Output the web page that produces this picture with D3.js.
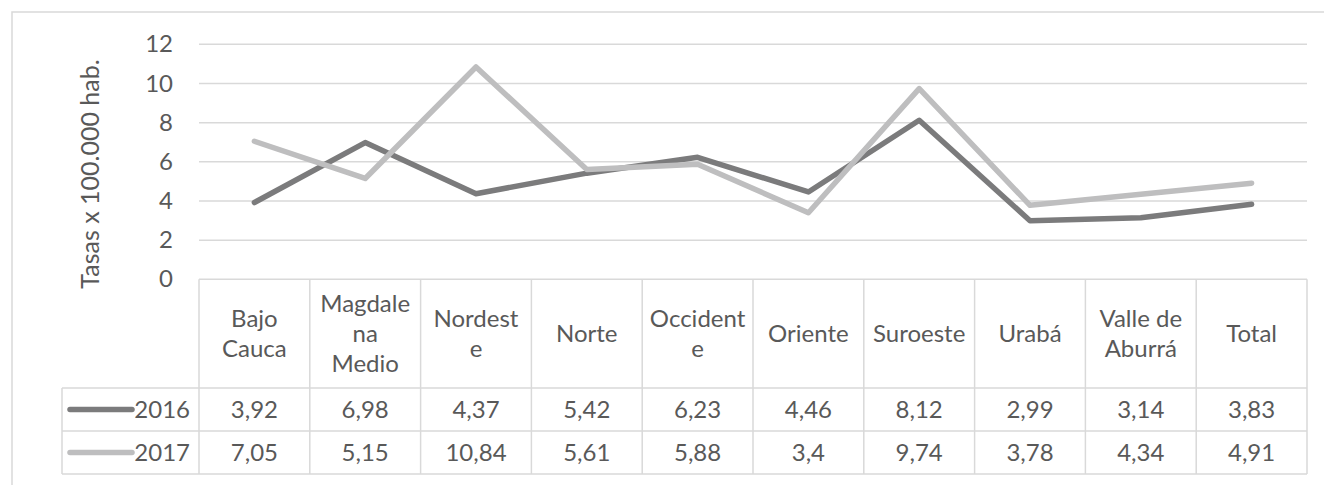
<!DOCTYPE html>
<html><head><meta charset="utf-8">
<script src="https://cdn.jsdelivr.net/npm/d3@7"></script>
<style>html,body{margin:0;padding:0;background:#fff;}svg{display:block;}</style>
</head><body>
<svg id="chart" width="1324" height="485"></svg>
<script>
const categories = ["Bajo Cauca","Magdalena Medio","Nordeste","Norte","Occidente","Oriente","Suroeste","Urabá","Valle de Aburrá","Total"];
const categoryLines = [["Bajo","Cauca"],["Magdale","na","Medio"],["Nordest","e"],["Norte"],["Occident","e"],["Oriente"],["Suroeste"],["Urabá"],["Valle de","Aburrá"],["Total"]];
const seriesNames = ["2016","2017"];
const values2016 = [3.92,6.98,4.37,5.42,6.23,4.46,8.12,2.99,3.14,3.83];
const values2017 = [7.05,5.15,10.84,5.61,5.88,3.4,9.74,3.78,4.34,4.91];
const yTicks = [0,2,4,6,8,10,12];
const yTitle = "Tasas x 100.000 hab.";

const series = [
  {name: seriesNames[0], values: values2016, color: "#7b7b7c"},
  {name: seriesNames[1], values: values2017, color: "#bebebf"}
];

const svg = d3.select("#chart");
const font = "Lato, 'Open Sans', sans-serif";
const txt = "#595959";
const gridC = "#d9d9d9";
const left = 199, right = 1307, top0 = 44.3, bottom0 = 279.3;
const rowH = [388, 431, 474];

// outer frame
svg.append("rect").attr("x",12).attr("y",12).attr("width",1400).attr("height",600)
  .attr("fill","none").attr("stroke",gridC).attr("stroke-width",1.5);

const x = d3.scaleBand().domain(categories).range([left,right]);
const y = d3.scaleLinear().domain([0,12]).range([bottom0,top0]);

// gridlines
svg.append("g").selectAll("line").data(yTicks.filter(d=>d>0)).join("line")
  .attr("x1",left).attr("x2",right).attr("y1",d=>y(d)).attr("y2",d=>y(d))
  .attr("stroke",gridC).attr("stroke-width",1.5);

// y axis via d3.axisLeft
const yAxis = svg.append("g").attr("transform",`translate(${left},0)`)
  .call(d3.axisLeft(y).tickValues(yTicks).tickSize(0).tickPadding(26));
yAxis.select(".domain").remove();
yAxis.selectAll("text").attr("font-family",font).attr("font-size",24).attr("fill",txt);

// y title
svg.append("text").attr("transform","translate(99,174) rotate(-90)")
  .attr("text-anchor","middle").attr("font-family",font).attr("font-size",25).attr("fill",txt).text(yTitle);

// table
const tbl = svg.append("g");
const tableLeft = 62;
[bottom0, rowH[0], rowH[1], rowH[2]].forEach((yy,i)=>{
  tbl.append("line").attr("x1", i===0 ? left : tableLeft).attr("x2",right)
    .attr("y1",yy).attr("y2",yy).attr("stroke",gridC).attr("stroke-width",1.5);
});
const xs = categories.map(c=>x(c)).concat([right]);
xs.forEach(xx=>{
  tbl.append("line").attr("x1",xx).attr("x2",xx).attr("y1",bottom0).attr("y2",rowH[2])
    .attr("stroke",gridC).attr("stroke-width",1.5);
});
tbl.append("line").attr("x1",tableLeft).attr("x2",tableLeft).attr("y1",rowH[0]).attr("y2",rowH[2])
  .attr("stroke",gridC).attr("stroke-width",1.5);

// header labels
const headerMid = (bottom0 + rowH[0]) / 2;
const lh = 30;
categories.forEach((c,i)=>{
  const lines = categoryLines[i];
  const t = tbl.append("text").attr("text-anchor","middle").attr("font-family",font)
    .attr("font-size",24).attr("fill",txt);
  lines.forEach((ln,j)=>{
    t.append("tspan").attr("x", x(c)+x.bandwidth()/2)
      .attr("y", headerMid + (j - (lines.length-1)/2)*lh).attr("dy","0.35em").text(ln);
  });
});

// data rows
const fmt = v => String(v).replace(".", ",");
series.forEach((s,si)=>{
  const cy = (rowH[si] + rowH[si+1]) / 2;
  tbl.append("line").attr("x1",70).attr("x2",132).attr("y1",cy).attr("y2",cy)
    .attr("stroke",s.color).attr("stroke-width",5.5).attr("stroke-linecap","round");
  tbl.append("text").attr("x",190).attr("y",cy).attr("dy","0.35em").attr("text-anchor","end")
    .attr("font-family",font).attr("font-size",24).attr("fill",txt).text(s.name);
  s.values.forEach((v,i)=>{
    tbl.append("text").attr("x",x(categories[i])+x.bandwidth()/2).attr("y",cy).attr("dy","0.35em")
      .attr("text-anchor","middle").attr("font-family",font).attr("font-size",24).attr("fill",txt).text(fmt(v));
  });
});

// lines
const line = d3.line().x((d,i)=>x(categories[i])+x.bandwidth()/2).y(d=>y(d));
svg.append("g").selectAll("path").data(series).join("path")
  .attr("d",d=>line(d.values)).attr("fill","none").attr("stroke",d=>d.color)
  .attr("stroke-width",5.5).attr("stroke-linecap","round").attr("stroke-linejoin","round");
</script>
</body></html>
